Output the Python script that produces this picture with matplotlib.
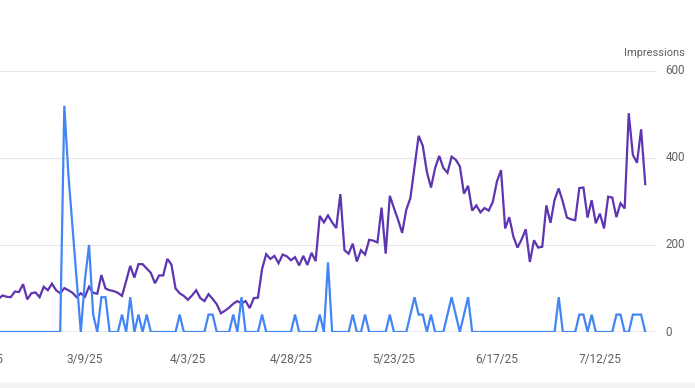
import matplotlib
matplotlib.use("Agg")
import matplotlib.pyplot as plt
import matplotlib.dates as mdates
import pandas as pd
import numpy as np

# ---- data ----
start_date = "2025-02-16"
end_date = "2025-07-23"
impressions = [
    76, 84, 81, 80, 93, 92, 110, 75, 89, 91, 80, 104, 96, 111, 96, 89,
    101, 96, 90, 80, 89, 81, 104, 90, 88, 131, 100, 96, 94, 90, 83, 117,
    152, 125, 156, 156, 146, 136, 112, 130, 130, 168, 155, 100, 89, 83, 74, 84,
    96, 78, 71, 87, 76, 64, 43, 49, 56, 65, 71, 66, 71, 55, 78, 79,
    145, 179, 168, 175, 158, 178, 174, 165, 172, 153, 175, 154, 182, 163, 267, 252,
    268, 252, 239, 317, 188, 180, 203, 162, 188, 178, 212, 210, 206, 286, 180, 313,
    285, 258, 228, 281, 308, 380, 451, 428, 368, 332, 377, 405, 377, 366, 403, 396,
    381, 318, 336, 279, 291, 275, 285, 279, 299, 346, 372, 238, 264, 219, 194, 213,
    236, 161, 211, 194, 196, 291, 251, 304, 330, 299, 263, 259, 257, 331, 332, 263,
    303, 250, 272, 238, 311, 309, 264, 296, 284, 503, 407, 389, 466, 340,
]
clicks = [
    0, 0, 0, 0, 0, 0, 0, 0, 0, 0, 0, 0, 0, 0, 0, 0,
    13, 9, 6, 3, 0, 3, 5, 1, 0, 2, 2, 0, 0, 0, 1, 0,
    2, 0, 1, 0, 1, 0, 0, 0, 0, 0, 0, 0, 1, 0, 0, 0,
    0, 0, 0, 1, 1, 0, 0, 0, 0, 1, 0, 2, 0, 0, 0, 0,
    1, 0, 0, 0, 0, 0, 0, 0, 1, 0, 0, 0, 0, 0, 1, 0,
    4, 0, 0, 0, 0, 0, 1, 0, 0, 1, 0, 0, 0, 0, 0, 1,
    0, 0, 0, 0, 1, 2, 1, 1, 0, 1, 0, 0, 0, 1, 2, 1,
    0, 1, 2, 0, 0, 0, 0, 0, 0, 0, 0, 0, 0, 0, 0, 0,
    0, 0, 0, 0, 0, 0, 0, 0, 2, 0, 0, 0, 0, 1, 1, 0,
    1, 0, 0, 0, 0, 0, 1, 1, 0, 0, 1, 1, 1, 0,
]
tick_dates = ["2025-01-18", "2025-02-12", "2025-03-09", "2025-04-03",
              "2025-04-28", "2025-05-23", "2025-06-17", "2025-07-12"]
imp_ticks = [0, 200, 400, 600]
right_title = "Impressions"

dates = pd.date_range(start_date, end_date, freq="D")

plt.rcParams['font.family'] = ['Roboto', 'DejaVu Sans']

W, H = 695, 388
fig = plt.figure(figsize=(W / 100, H / 100), dpi=100)

# axes in pixel geometry
left_px, right_px = -30, 657
bottom_px, top_px = 332, 71
ax = fig.add_axes([left_px / W, (H - bottom_px) / H,
                   (right_px - left_px) / W, (bottom_px - top_px) / H])
ax2 = ax.twinx()

d0 = mdates.date2num(pd.Timestamp(start_date))
px_per_day = 4.12
x_first = -1.6
xmin = d0 + (left_px - x_first) / px_per_day
xmax = d0 + (right_px - x_first) / px_per_day

ax.plot(dates, impressions, color="#5e35b1", lw=1.6, solid_joinstyle="miter", zorder=3)
ax.set_xlim(xmin, xmax)
ax.set_ylim(0, 600)
ax.yaxis.tick_right()
ax.yaxis.set_label_position("right")
ax.set_yticks(imp_ticks)
ax.set_yticklabels([str(v) for v in imp_ticks])
for v in imp_ticks[1:]:
    ax.axhline(v, color="#e6e6e6", lw=0.8, zorder=0)
ax.axhline(0, color="#9e9e9e", lw=1.0, zorder=0)

tds = [pd.Timestamp(t) for t in tick_dates]
ax.set_xticks([mdates.date2num(t) for t in tds])
ax.set_xticklabels([f"{t.month}/{t.day}/{t.strftime('%y')}" for t in tds])
ax.tick_params(axis="x", length=0, pad=15, labelsize=8.6, labelcolor="#616161")
ax.tick_params(axis="y", which="both", left=False, labelleft=False,
               right=False, labelright=True, length=0, pad=6,
               labelsize=8.4, labelcolor="#616161")
for lbl in ax.get_yticklabels():
    lbl.set_verticalalignment("center")
for s in ax.spines.values():
    s.set_visible(False)
ax.patch.set_alpha(0)

ax2.plot(dates, clicks, color="#4285f4", lw=1.6, solid_joinstyle="miter", zorder=3)
ax2.set_ylim(0, 15)
ax2.set_xlim(xmin, xmax)
ax2.set_yticks([])
ax2.tick_params(axis="y", left=False, right=False, labelleft=False, labelright=False)
for s in ax2.spines.values():
    s.set_visible(False)

fig.text(685 / W, 1 - 53 / H, right_title, ha="right", va="center",
         fontsize=7.9, color="#616161")

# bottom light band
fig.patches.append(plt.Rectangle((0, 0), 1, 5 / H, transform=fig.transFigure,
                                 color="#f1f3f4", zorder=0))

fig.savefig("out.png", dpi=100)
